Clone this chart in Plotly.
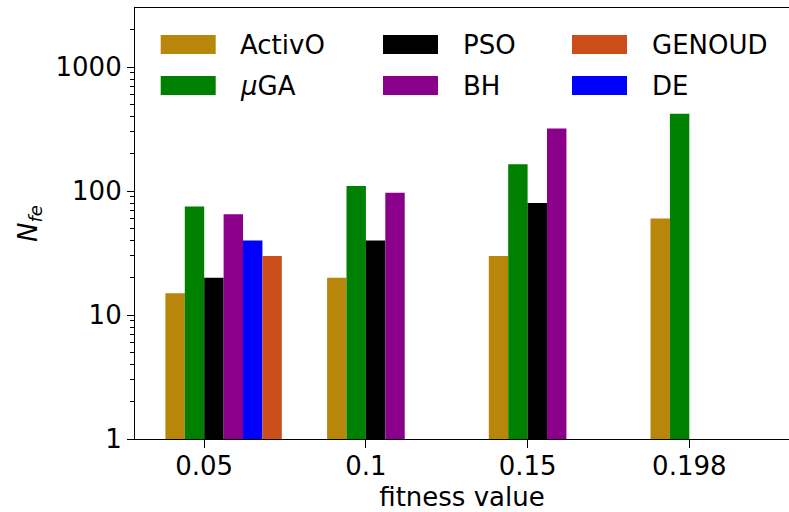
import plotly.graph_objects as go
import math

# ---- data ----
fitness_labels = ["0.05", "0.1", "0.15", "0.198"]
activo = [15, 20, 30, 60]
mu_ga = [75, 110, 165, 420]
pso = [20, 40, 80, None]
bh = [65, 97, 320, None]
de = [40, None, None, None]
genoud = [30, None, None, None]

series_names = ["ActivO", "<i>μ</i>GA", "PSO", "BH", "DE", "GENOUD"]
series_values = [activo, mu_ga, pso, bh, de, genoud]
series_colors = ["#B8860B", "#008000", "#000000", "#8B008B", "#0000FF", "#CC4F1B"]
legend_order = [0, 1, 2, 3, 5, 4]  # column-major: ActivO, muGA | PSO, BH | GENOUD, DE

bar_w = 0.12
pos = list(range(len(fitness_labels)))

FONT = "DejaVu Sans"
FS = 26

fig = go.Figure()
for k, (name, vals, col) in enumerate(zip(series_names, series_values, series_colors)):
    fig.add_trace(go.Bar(
        x=pos, y=vals, name=name,
        width=bar_w, offset=(k - 2) * bar_w,
        marker=dict(color=col, line=dict(width=0)),
        showlegend=False,
    ))

W, H = 789, 512
L, R, T, B = 135, 0, 8, 73
pw, ph = W - L - R, H - T - B

def px2paper(x, y):
    return (x - L) / pw, (H - B - y) / ph

# custom legend (matplotlib style wide patches)
col_x = [160.7, 383.0, 572.0]
row_y = [44.5, 85.5]
patch_w, patch_h = 55.0, 19.0
text_gap = 22.5
for i, k in enumerate(legend_order):
    c, r = i // 2, i % 2
    x0, yc = col_x[c], row_y[r]
    px0, py0 = px2paper(x0, yc + patch_h / 2)
    px1, py1 = px2paper(x0 + patch_w, yc - patch_h / 2)
    fig.add_shape(type="rect", xref="paper", yref="paper",
                  x0=px0, y0=py0, x1=px1, y1=py1,
                  fillcolor=series_colors[k], line=dict(width=0))
    tx, ty = px2paper(x0 + patch_w + text_gap, yc)
    fig.add_annotation(xref="paper", yref="paper", x=tx, y=ty,
                       text=series_names[k], showarrow=False,
                       xanchor="left", yanchor="middle",
                       font=dict(family=FONT, size=FS, color="black"))

x_left = -0.428
x_right = x_left + pw / 161.7

minor_vals = [m * 10 ** e for e in range(0, 4) for m in range(2, 10) if m * 10 ** e < 3000]

fig.update_layout(
    width=W, height=H,
    margin=dict(l=L, r=R, t=T, b=B, pad=0),
    paper_bgcolor="white", plot_bgcolor="white",
    barmode="overlay",
    font=dict(family=FONT, size=FS, color="black"),
    xaxis=dict(
        range=[x_left, x_right],
        tickmode="array", tickvals=pos, ticktext=fitness_labels,
        ticks="outside", ticklen=8, tickwidth=1.2, tickcolor="black",
        ticklabelstandoff=-4,
        showline=True, linecolor="black", linewidth=1.2, mirror=True,
        showgrid=False, zeroline=False,
        title=dict(text="fitness value", font=dict(family=FONT, size=FS), standoff=12),
        tickfont=dict(family=FONT, size=FS),
    ),
    yaxis=dict(
        type="log", range=[0, math.log10(3000)],
        tickmode="array", tickvals=[1, 10, 100, 1000], ticktext=["1", "10", "100", "1000"],
        ticks="outside", ticklen=7, tickwidth=1.2, tickcolor="black",
        minor=dict(tickmode="array", tickvals=minor_vals, ticks="outside",
                   ticklen=4, tickwidth=1, tickcolor="black", showgrid=False),
        showline=True, linecolor="black", linewidth=1.2,
        showgrid=False, zeroline=False,
        title=dict(text="<i>N</i><sub><i>fe</i></sub>", font=dict(family=FONT, size=FS), standoff=10),
        tickfont=dict(family=FONT, size=FS),
    ),
)

fig.write_html("out.html")
